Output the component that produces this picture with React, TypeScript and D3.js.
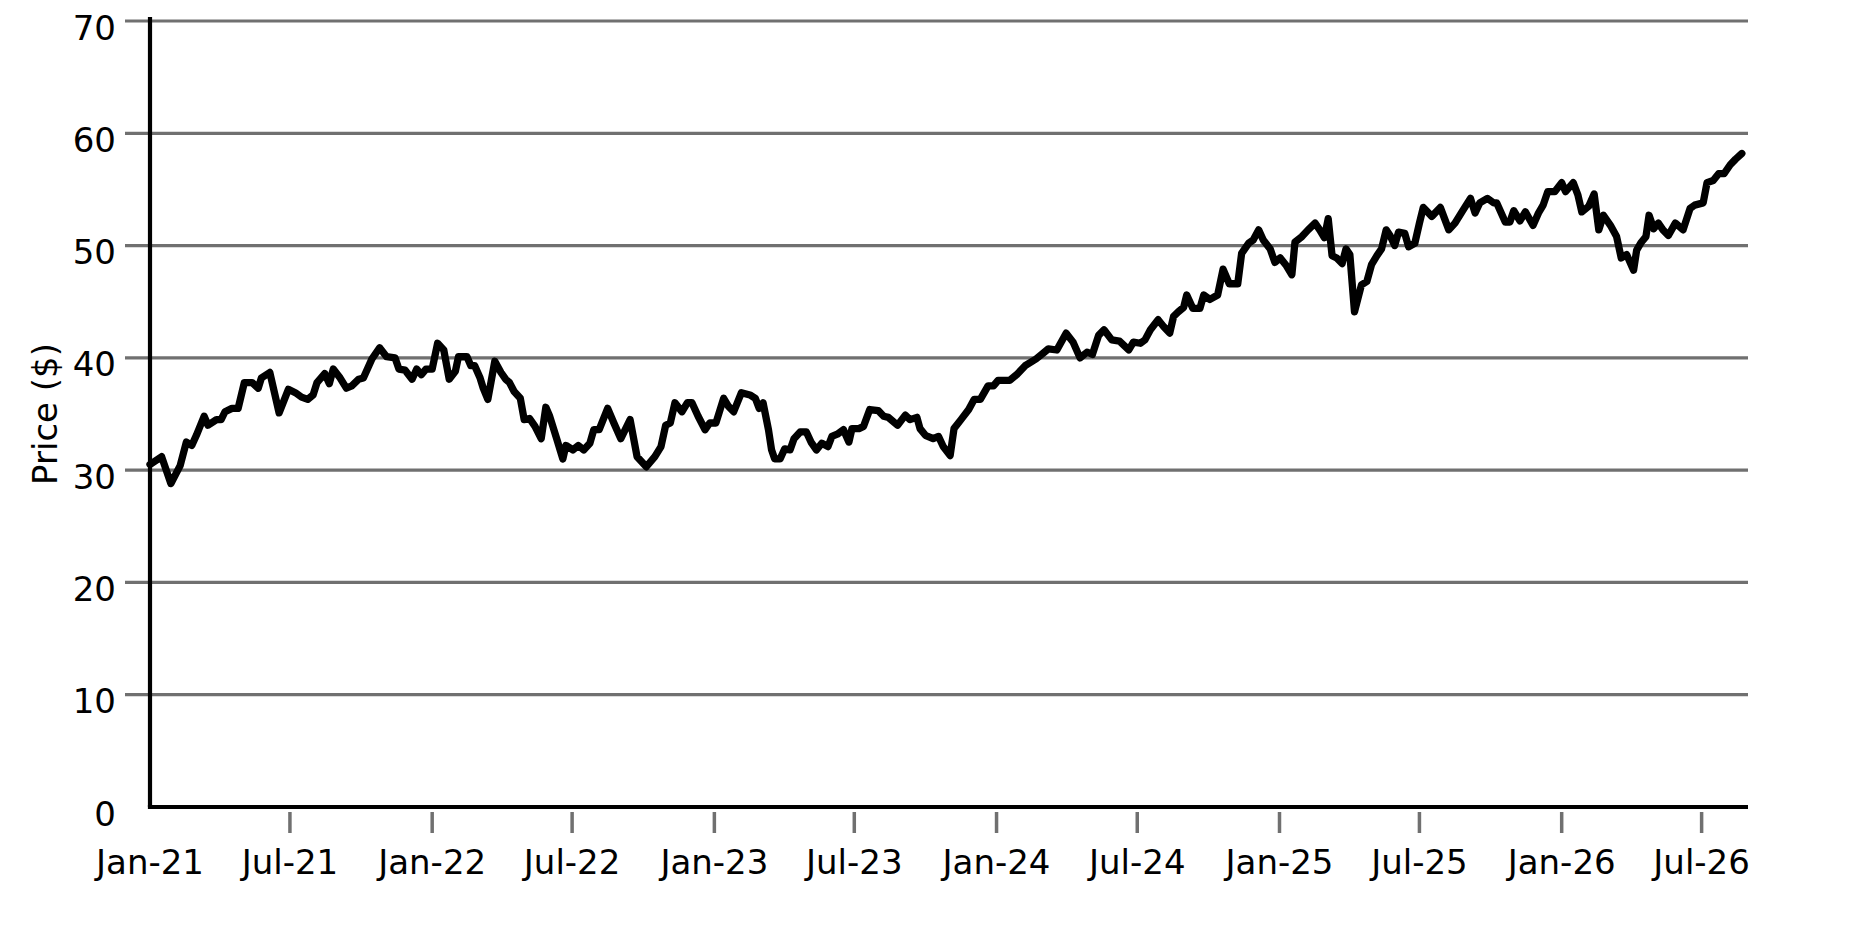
import * as d3 from "d3";

// weekly-ish closing prices
// dayOffsets = days since 2021-01-01
const dayOffsets = [
  0, 15, 27, 39, 47, 54, 60, 70, 75, 86, 92, 97, 106, 114, 122, 132, 140, 144, 155, 167,
  179, 188, 196, 204, 211, 216, 226, 232, 237, 246, 254, 261, 270, 276, 287, 297, 306, 317, 322, 330,
  339, 345, 351, 357, 365, 372, 380, 387, 395, 399, 410, 415, 420, 427, 431, 437, 446, 454, 460, 465,
  471, 479, 484, 491, 498, 506, 512, 517, 526, 534, 538, 547, 554, 561, 569, 574, 581, 592, 600, 609,
  621, 630, 642, 653, 661, 667, 673, 679, 688, 695, 701, 709, 718, 724, 732, 742, 748, 755, 765, 776,
  783, 788, 793, 800, 804, 808, 815, 821, 828, 833, 841, 849, 855, 862, 869, 877, 882, 889, 897, 904,
  908, 917, 923, 931, 942, 949, 955, 967, 977, 983, 992, 996, 1003, 1013, 1020, 1026, 1035, 1040, 1049, 1059,
  1066, 1074, 1084, 1091, 1097, 1112, 1121, 1132, 1146, 1155, 1162, 1173, 1185, 1194, 1203, 1212, 1219, 1227, 1234, 1244,
  1254, 1266, 1272, 1281, 1287, 1294, 1304, 1311, 1319, 1324, 1330, 1337, 1341, 1349, 1358, 1363, 1371, 1381, 1388, 1396,
  1407, 1412, 1421, 1427, 1434, 1440, 1449, 1455, 1462, 1470, 1477, 1481, 1490, 1498, 1507, 1513, 1519, 1524, 1529, 1535,
  1542, 1547, 1552, 1558, 1567, 1574, 1580, 1587, 1593, 1599, 1604, 1610, 1615, 1623, 1628, 1636, 1642, 1647, 1658, 1669,
  1680, 1688, 1697, 1708, 1714, 1720, 1730, 1738, 1742, 1753, 1759, 1764, 1772, 1779, 1789, 1796, 1802, 1808, 1817, 1826,
  1831, 1841, 1847, 1852, 1861, 1868, 1874, 1880, 1889, 1897, 1903, 1910, 1919, 1923, 1929, 1935, 1939, 1945, 1951, 1957,
  1964, 1973, 1983, 1992, 1998, 2009, 2014, 2022, 2029, 2036, 2044, 2051, 2059,
];

const prices = [
  30.5, 31.2, 28.8, 30.4, 32.5, 32.2, 33.1, 34.8, 34.0, 34.5, 34.5, 35.2, 35.5, 35.5, 37.8, 37.8, 37.3, 38.2, 38.7, 35.1,
  37.2, 36.9, 36.5, 36.3, 36.7, 37.8, 38.6, 37.7, 39.0, 38.2, 37.3, 37.5, 38.1, 38.2, 39.9, 40.9, 40.1, 40.0, 39.0, 38.9,
  38.1, 39.0, 38.5, 39.0, 39.0, 41.3, 40.7, 38.1, 38.8, 40.1, 40.1, 39.3, 39.3, 38.2, 37.3, 36.3, 39.7, 38.7, 38.1, 37.8,
  37.0, 36.4, 34.5, 34.6, 33.9, 32.8, 35.6, 34.8, 32.8, 31.0, 32.2, 31.8, 32.2, 31.8, 32.4, 33.6, 33.6, 35.5, 34.2, 32.8,
  34.5, 31.2, 30.3, 31.2, 32.1, 34.0, 34.2, 36.0, 35.2, 36.0, 36.0, 34.8, 33.6, 34.2, 34.2, 36.4, 35.7, 35.2, 36.9, 36.7,
  36.4, 35.5, 36.0, 33.6, 31.8, 31.0, 31.0, 31.9, 31.8, 32.8, 33.4, 33.4, 32.5, 31.8, 32.4, 32.1, 33.0, 33.2, 33.6, 32.5,
  33.7, 33.7, 33.9, 35.4, 35.3, 34.8, 34.7, 34.0, 34.9, 34.5, 34.7, 33.7, 33.1, 32.8, 33.0, 32.1, 31.3, 33.7, 34.5, 35.4,
  36.3, 36.3, 37.5, 37.5, 38.0, 38.0, 38.5, 39.3, 39.9, 40.4, 40.8, 40.7, 42.2, 41.4, 40.0, 40.5, 40.3, 42.0, 42.5, 41.6,
  41.5, 40.7, 41.4, 41.3, 41.6, 42.5, 43.4, 42.8, 42.2, 43.7, 44.1, 44.5, 45.6, 44.4, 44.4, 45.6, 45.2, 45.6, 47.9, 46.6,
  46.6, 49.3, 50.2, 50.5, 51.4, 50.5, 49.7, 48.5, 48.9, 48.2, 47.4, 50.3, 50.8, 51.4, 52.0, 51.4, 50.7, 52.4, 49.1, 48.9,
  48.4, 49.7, 49.2, 44.1, 46.5, 46.8, 48.3, 49.1, 49.7, 51.4, 50.9, 50.0, 51.2, 51.1, 49.9, 50.2, 52.0, 53.4, 52.6, 53.4,
  51.4, 52.0, 53.0, 54.2, 52.9, 53.8, 54.2, 53.8, 53.8, 52.1, 52.1, 53.1, 52.2, 53.0, 51.8, 52.9, 53.6, 54.8, 54.8, 55.6,
  54.8, 55.6, 54.5, 53.0, 53.5, 54.6, 51.4, 52.7, 51.8, 50.8, 48.9, 49.2, 47.8, 49.6, 50.3, 50.8, 52.7, 51.5, 52.0, 51.4,
  50.9, 52.0, 51.4, 53.3, 53.6, 53.8, 55.6, 55.8, 56.4, 56.4, 57.2, 57.7, 58.2,
];

const yTicks = [0, 10, 20, 30, 40, 50, 60, 70];
const xTickDates = [
  "2021-01-01", "2021-07-01", "2022-01-01", "2022-07-01", "2023-01-01", "2023-07-01",
  "2024-01-01", "2024-07-01", "2025-01-01", "2025-07-01", "2026-01-01", "2026-07-01",
];
const yLabel = "Price ($)";

const W = 1875;
const H = 938;
const FONT = "DejaVu Sans, Verdana, sans-serif";
const GRID = "#707070";
const FS = 34;

const parseDay = d3.timeParse("%Y-%m-%d");
const fmtTick = d3.timeFormat("%b-%y");

export default function App() {
  const start = parseDay("2021-01-01") as Date;
  const end = parseDay("2026-08-30") as Date;

  const margin = { top: 21, right: 127, bottom: 131, left: 150 };
  const x = d3.scaleTime().domain([start, end]).range([margin.left, W - margin.right]);
  const y = d3.scaleLinear().domain([0, 70]).range([H - margin.bottom, margin.top]);

  const series = dayOffsets.map((d, i) => ({ date: d3.timeDay.offset(start, d), value: prices[i] }));
  const line = d3
    .line<{ date: Date; value: number }>()
    .x((d) => x(d.date))
    .y((d) => y(d.value));

  const ticks = xTickDates.map((s) => parseDay(s) as Date);
  const [x0, x1] = x.range();
  const y0 = y(0);

  return (
    <svg
      width={W}
      height={H}
      viewBox={`0 0 ${W} ${H}`}
      style={{ position: "absolute", left: 0, top: 0, display: "block", background: "#fff" }}
      fontFamily={FONT}
    >
      {/* grid + left ticks */}
      {yTicks
        .filter((t) => t > 0)
        .map((t) => (
          <line key={`g${t}`} x1={x0 - 25} x2={x1} y1={y(t)} y2={y(t)} stroke={GRID} strokeWidth={3.2} />
        ))}

      {/* y tick labels */}
      {yTicks.map((t) => (
        <text key={`yl${t}`} x={x0 - 34} y={y(t) + 18.5} textAnchor="end" fontSize={FS} fill="#000">
          {t}
        </text>
      ))}

      {/* bottom ticks */}
      {ticks.slice(1).map((d) => (
        <line
          key={`xt${d.getTime()}`}
          x1={x(d)}
          x2={x(d)}
          y1={y0 + 5}
          y2={y0 + 26}
          stroke={GRID}
          strokeWidth={3.5}
        />
      ))}

      {/* x tick labels */}
      {ticks.map((d) => (
        <text key={`xl${d.getTime()}`} x={x(d)} y={y0 + 67} textAnchor="middle" fontSize={FS} fill="#000">
          {fmtTick(d)}
        </text>
      ))}

      {/* axis label */}
      <text
        transform={`translate(57,${(y(0) + y(70)) / 2}) rotate(-90)`}
        textAnchor="middle"
        fontSize={FS}
        fill="#000"
      >
        {yLabel}
      </text>

      {/* price line */}
      <path
        d={line(series) ?? ""}
        fill="none"
        stroke="#000"
        strokeWidth={7.3}
        strokeLinejoin="round"
        strokeLinecap="round"
      />

      {/* spines */}
      <line x1={x0} x2={x0} y1={y(70) - 4} y2={y0} stroke="#000" strokeWidth={4.2} />
      <line x1={x0 - 2.1} x2={x1} y1={y0} y2={y0} stroke="#000" strokeWidth={4} />
    </svg>
  );
}
